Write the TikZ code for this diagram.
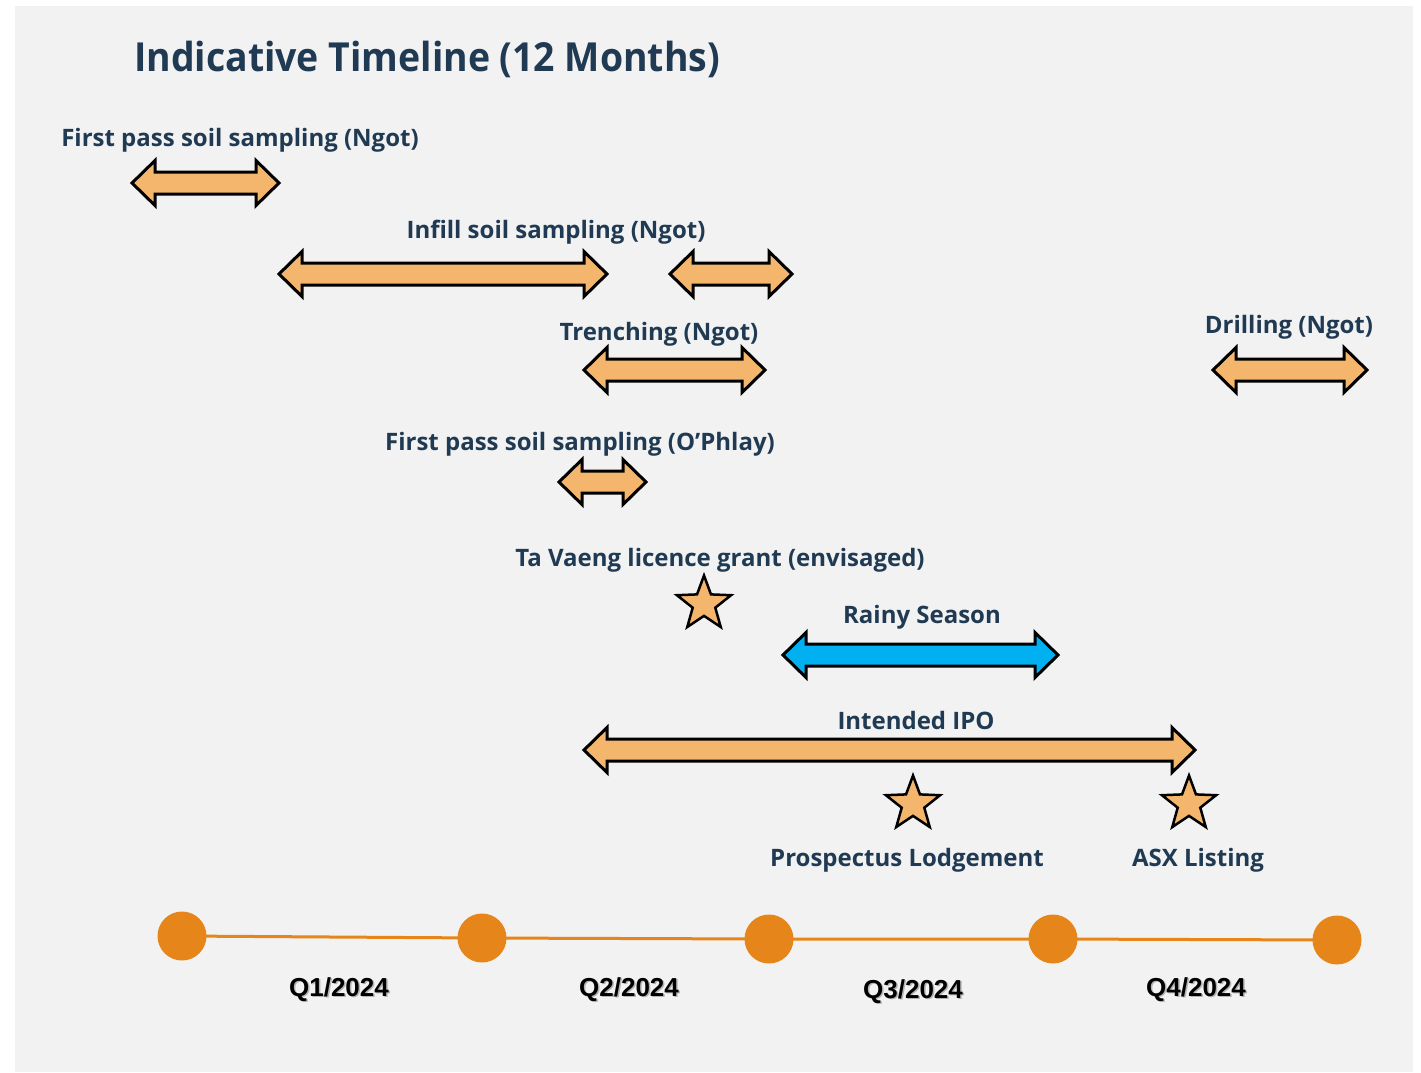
\documentclass[tikz,border=0pt]{standalone}
\usepackage{fontspec}
\usetikzlibrary{shapes.geometric}
\newfontfamily\labfont{Open Sans}
\newfontfamily\ttlfont{Open Sans}[FakeStretch=0.935]
\newfontfamily\qfont{Liberation Sans}
\definecolor{bg}{HTML}{F2F2F2}
\definecolor{navy}{HTML}{1F3A52}
\definecolor{barfill}{HTML}{F4B56C}
\definecolor{rain}{HTML}{00B0F0}
\definecolor{tline}{HTML}{E6851A}

% double-headed block arrow: #1 fill, #2 left tip x, #3 right tip x, #4 centre y
\newcommand\dbarrow[4]{%
  \draw[arrowbody, fill=#1]
    (#2,#4) -- (#2+23,#4-22.5) -- (#2+23,#4-11) -- (#3-23,#4-11) --
    (#3-23,#4-22.5) -- (#3,#4) -- (#3-23,#4+22.5) -- (#3-23,#4+11) --
    (#2+23,#4+11) -- (#2+23,#4+22.5) -- cycle;}

\tikzset{
  arrowbody/.style={draw=black, line width=3pt, line join=miter},
  lab/.style={text=navy, font=\labfont\bfseries\fontsize{24}{28}\selectfont,
              anchor=base, inner sep=0pt},
  ttl/.style={text=navy, font=\ttlfont\bfseries\fontsize{40}{46}\selectfont,
              anchor=base west, inner sep=0pt},
  starmark/.style={star, star points=5, star point ratio=2.4, minimum size=57pt,
              inner sep=0pt, draw=black, line width=2.5pt, fill=barfill},
  dot/.style={circle, fill=tline, minimum size=49pt, inner sep=0pt},
  qlab/.style={font=\qfont\bfseries\fontsize{26}{30}\selectfont, anchor=base, inner sep=0pt},
}

\begin{document}
\begin{tikzpicture}[x=1pt, y=-1pt]
  \useasboundingbox (0,0) rectangle (1421,1072);
  \fill[bg] (15,6) rectangle (1413,1072);

  % title
  \node[ttl] (title) at (134,71) {Indicative Timeline (12 Months)};

  % activity labels
  \node[lab] (fpn)  at (240,146) {First pass soil sampling (Ngot)};
  \node[lab] (inf)  at (556,238) {Infill soil sampling (Ngot)};
  \node[lab] (tre)  at (659,340) {Trenching (Ngot)};
  \node[lab] (dri)  at (1289,333) {Drilling (Ngot)};
  \node[lab] (fpo)  at (580,450) {First pass soil sampling (O’Phlay)};
  \node[lab] (tav)  at (720,566) {Ta Vaeng licence grant (envisaged)};
  \node[lab] (rain) at (922,623) {Rainy Season};
  \node[lab] (ipo)  at (916,729) {Intended IPO};
  \node[lab] (pro)  at (907,866) {Prospectus Lodgement};
  \node[lab] (asx)  at (1198,866) {ASX Listing};

  % activity bars
  \dbarrow{barfill}{132}{279}{183}
  \dbarrow{barfill}{279}{607}{274}
  \dbarrow{barfill}{670}{792}{274}
  \dbarrow{barfill}{584}{765}{370}
  \dbarrow{barfill}{1213}{1367}{370}
  \dbarrow{barfill}{559}{646}{482}
  \dbarrow{rain}{783}{1058}{655}
  \dbarrow{barfill}{584}{1195}{750}

  % milestones
  \node[starmark] (st1) at (704,604) {};
  \node[starmark] (st2) at (913,804) {};
  \node[starmark] (st3) at (1189,804) {};

  % quarter axis
  \coordinate (c1) at (182,936);
  \coordinate (c2) at (482,938);
  \coordinate (c3) at (769,939);
  \coordinate (c4) at (1053,939);
  \coordinate (c5) at (1337,940);
  \draw[tline, line width=3pt] (c1) -- (c2) -- (c3) -- (c4) -- (c5);
  \foreach \i in {1,...,5} \node[dot] (d\i) at (c\i) {};

  % quarter labels with a soft shadow
  \foreach \n/\x/\y/\t in {q1/339/996/Q1, q2/629/996/Q2, q3/913/998/Q3, q4/1196/996/Q4}{
    \node[qlab, text=black!45, opacity=0.6] at (\x+1.5,\y+1.5) {\t/2024};
    \node[qlab, text=black] (\n) at (\x,\y) {\t/2024};
  }
\end{tikzpicture}
\end{document}
